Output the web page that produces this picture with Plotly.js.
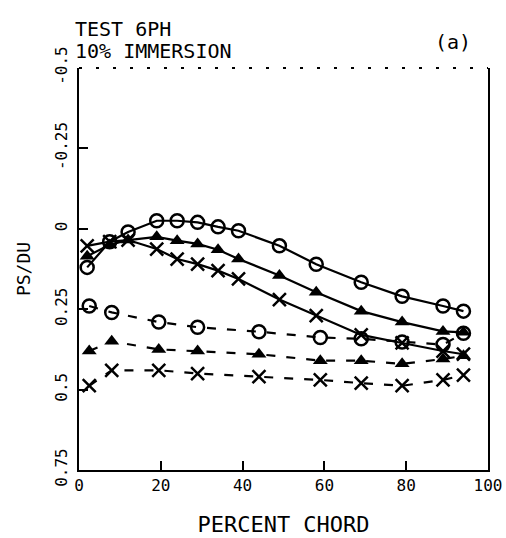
<!DOCTYPE html>
<html><head><meta charset="utf-8">
<script src="https://cdn.plot.ly/plotly-3.0.1.min.js"></script>
<style>html,body{margin:0;padding:0;background:#fff}#chart{width:506px;height:538px}</style>
</head><body><div id="chart"></div>
<script>
// Percent chord stations
var xSolid = [2, 7.5, 12, 19, 24, 29, 34, 39, 49, 58, 69, 79, 89, 94];
var xDashed = [2.5, 8, 19.5, 29, 44, 59, 69, 79, 89, 94];
// PS/QU values
var solidCircle = [0.12, 0.04, 0.01, -0.025, -0.025, -0.02, -0.006, 0.006, 0.053, 0.11, 0.166, 0.21, 0.24, 0.256];
var solidTriangle = [0.085, 0.05, 0.035, 0.025, 0.037, 0.047, 0.065, 0.094, 0.145, 0.197, 0.256, 0.29, 0.319, 0.322];
var solidX = [0.053, 0.04, 0.035, 0.063, 0.094, 0.11, 0.13, 0.156, 0.22, 0.27, 0.33, 0.355, 0.38, 0.39];
var dashedCircle = [0.24, 0.26, 0.29, 0.306, 0.32, 0.338, 0.342, 0.352, 0.36, 0.325];
var dashedTriangle = [0.38, 0.35, 0.375, 0.38, 0.39, 0.41, 0.41, 0.42, 0.405, 0.395];
var dashedX = [0.488, 0.44, 0.44, 0.45, 0.46, 0.47, 0.48, 0.488, 0.47, 0.455];
var xTicks = [0, 20, 40, 60, 80, 100];
var yTicks = [-0.5, -0.25, 0, 0.25, 0.5, 0.75];
var yTickText = ['-0.5', '-0.25', '0', '0.25', '0.5', '0.75'];
var titleLines = ['TEST 6PH', '10% IMMERSION'];
var panelLabel = '(a)';

var F = 'DejaVu Sans Mono';
function tr(x, y, sym, dash) {
  var open = sym !== 'triangle-up';
  return {
    x: x, y: y, type: 'scatter', mode: 'lines+markers', showlegend: false,
    line: {color: '#000', width: 2.2, dash: dash},
    marker: {symbol: sym, size: 13, color: '#000',
      line: {color: '#000', width: open ? 2.5 : 0}}
  };
}
var LD = '9px,11px';
var data = [
  tr(xSolid, solidCircle, 'circle-open', 'solid'),
  tr(xSolid, solidTriangle, 'triangle-up', 'solid'),
  tr(xSolid, solidX, 'x-thin-open', 'solid'),
  tr(xDashed, dashedCircle, 'circle-open', LD),
  tr(xDashed, dashedTriangle, 'triangle-up', LD),
  tr(xDashed, dashedX, 'x-thin-open', LD)
];
var layout = {
  width: 506, height: 538,
  margin: {l: 79, r: 18, t: 68, b: 68},
  paper_bgcolor: '#fff', plot_bgcolor: '#fff',
  font: {family: F, color: '#000', size: 15},
  xaxis: {range: [0, 100], tickvals: xTicks, ticktext: xTicks.map(String),
    showgrid: false, zeroline: false, showline: true, linecolor: '#000', linewidth: 2,
    ticks: 'inside', ticklen: 9, tickwidth: 2, tickcolor: '#000',
    tickfont: {family: F, size: 16, color: '#000'},
    title: {text: 'PERCENT CHORD', standoff: 22, font: {family: F, size: 22, color: '#000'}}},
  yaxis: {range: [0.75, -0.5], tickvals: yTicks, ticktext: yTickText,
    showgrid: false, zeroline: false, showline: true, mirror: true, linecolor: '#000', linewidth: 2,
    ticks: 'inside', ticklen: 9, tickwidth: 2, tickcolor: '#000', tickangle: -90,
    ticklabelstandoff: 4,
    tickfont: {family: F, size: 16, color: '#000'},
    title: {text: 'PS/DU', standoff: 16, font: {family: F, size: 18, color: '#000'}}},
  shapes: [{type: 'line', xref: 'paper', yref: 'paper', x0: 0, x1: 1, y0: 1, y1: 1,
    line: {color: '#000', width: 2, dash: '3px,14px'}}],
  annotations: [
    {text: titleLines[0], xref: 'paper', yref: 'paper', x: -0.015, y: 1.097, xanchor: 'left', yanchor: 'middle',
      showarrow: false, font: {family: F, size: 20, color: '#000'}},
    {text: titleLines[1], xref: 'paper', yref: 'paper', x: -0.015, y: 1.042, xanchor: 'left', yanchor: 'middle',
      showarrow: false, font: {family: F, size: 20, color: '#000'}},
    {text: panelLabel, xref: 'paper', yref: 'paper', x: 0.963, y: 1.065, xanchor: 'right', yanchor: 'middle',
      showarrow: false, font: {family: F, size: 20, color: '#000'}}
  ]
};
Plotly.newPlot('chart', data, layout, {displayModeBar: false, staticPlot: true});
</script></body></html>
